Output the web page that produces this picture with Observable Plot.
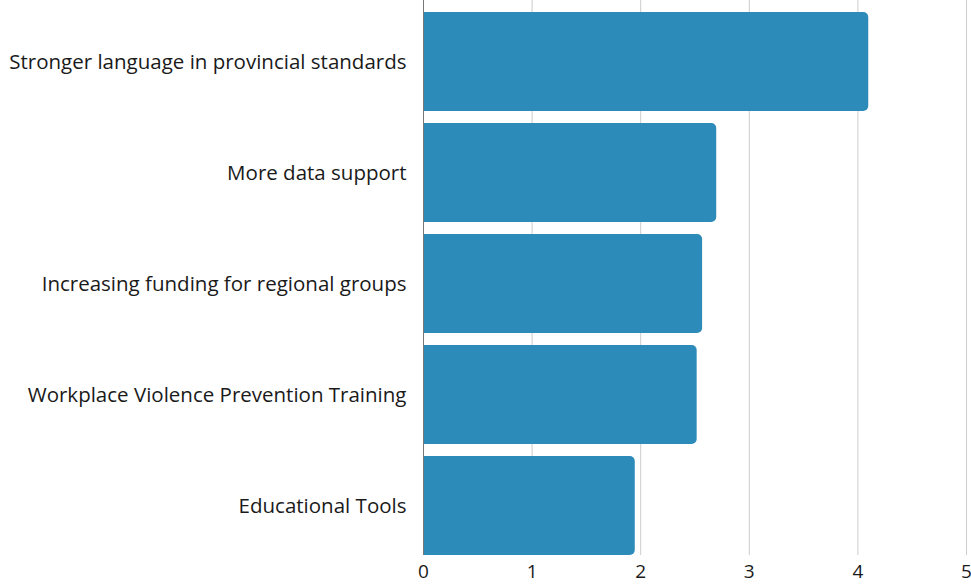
<!DOCTYPE html>
<html>
<head>
<meta charset="utf-8">
<script src="https://cdn.jsdelivr.net/npm/d3@7"></script>
<script src="https://cdn.jsdelivr.net/npm/@observablehq/plot@0.6"></script>
<style>
  html, body { margin: 0; padding: 0; background: #fff; }
  #chart { width: 971px; height: 586px; overflow: hidden; }
</style>
</head>
<body>
<div id="chart"></div>
<script>
const categories = [
  "Stronger language in provincial standards",
  "More data support",
  "Increasing funding for regional groups",
  "Workplace Violence Prevention Training",
  "Educational Tools"
];
const values = [4.10, 2.70, 2.57, 2.52, 1.95];
const xTicks = [0, 1, 2, 3, 4, 5];

const data = categories.map((c, i) => ({category: c, value: values[i]}));

const ver = (Plot.version || "0.6.0").split(".").map(Number);
const hasCornerOpts = ver[0] > 0 || ver[1] > 6 || (ver[1] === 6 && ver[2] >= 12);

const barMarks = hasCornerOpts
  ? [Plot.barX(data, {y: "category", x: "value", fill: "#2d8bba", rx2: 5})]
  : [
      Plot.barX(data, {y: "category", x: "value", fill: "#2d8bba", rx: 5}),
      Plot.barX(data, {y: "category", x1: 0, x2: d => Math.min(d.value, 0.1), fill: "#2d8bba"})
    ];

const chart = Plot.plot({
  width: 971,
  height: 586,
  marginTop: 0,
  marginBottom: 31,
  marginLeft: 423,
  marginRight: 5,
  style: {fontFamily: "'Open Sans', sans-serif", fontSize: "20px", color: "#1a1a1a", overflow: "visible"},
  x: {domain: [0, 5], ticks: xTicks, label: null},
  y: {domain: categories, paddingInner: 0.111, paddingOuter: 0.0555, align: 1, label: null},
  marks: [
    Plot.ruleX(xTicks.slice(1), {stroke: "#cccccc", strokeWidth: 1}),
    ...barMarks,
    Plot.ruleX([0], {stroke: "#777", strokeWidth: 1}),
    Plot.axisX({ticks: xTicks, tickFormat: d3.format("d"), tickSize: 0, tickPadding: 9, label: null, fontSize: 19}),
    Plot.axisY({tickSize: 0, tickPadding: 17, label: null, fontSize: 20.5})
  ]
});
document.getElementById("chart").appendChild(chart);
</script>
</body>
</html>
